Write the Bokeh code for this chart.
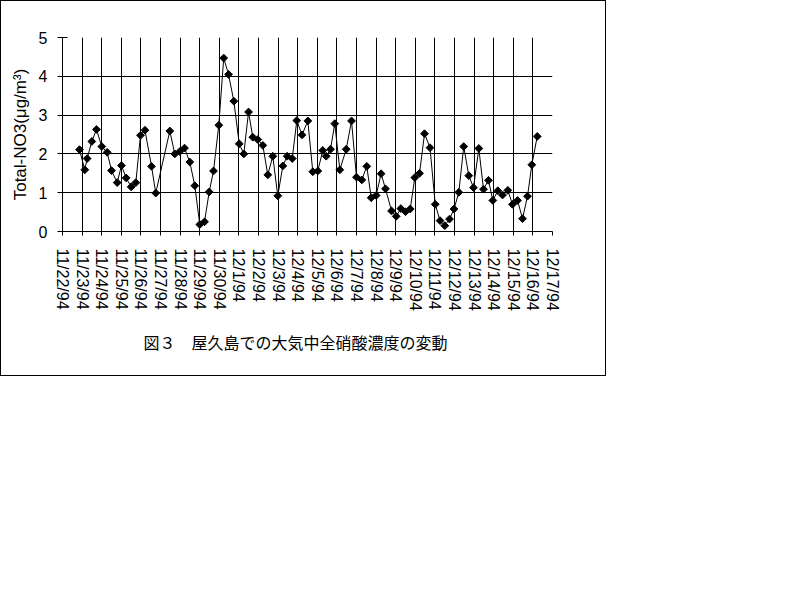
from math import pi
from bokeh.plotting import figure
from bokeh.models import FixedTicker, Range1d, Title
from bokeh.embed import file_html
from bokeh.resources import INLINE

# ---- data ----
date_labels = ["11/22/94", "11/23/94", "11/24/94", "11/25/94", "11/26/94", "11/27/94",
               "11/28/94", "11/29/94", "11/30/94", "12/1/94", "12/2/94", "12/3/94",
               "12/4/94", "12/5/94", "12/6/94", "12/7/94", "12/8/94", "12/9/94",
               "12/10/94", "12/11/94", "12/12/94", "12/13/94", "12/14/94", "12/15/94",
               "12/16/94", "12/17/94"]

# sampling time, hours after 11/22/94 00:00
hours = [20.8, 27.3, 30.2, 35.9, 41.6, 48.1, 54.7, 60.0, 67.0, 72.2, 78.0, 84.1, 89.8, 95.5, 101.0,
         109.0, 114.2, 131.4, 137.5, 143.6, 149.4, 155.9, 162.0, 168.1, 173.9, 179.6, 184.9, 191.4, 197.4,
         203.3, 209.8, 216.4, 222.0, 227.8, 233.0, 239.1, 245.3, 251.4, 257.5, 263.6, 269.8, 275.1, 281.3,
         286.9, 293.3,
         300.4, 306.5, 312.6, 318.7, 322.9, 328.2, 333.4, 339.6, 347.4, 353.9, 360.0, 366.5, 372.6, 378.0,
         384.1, 390.1, 395.5,
         402.9, 408.6, 414.3, 420.0, 425.8, 431.4, 437.2, 443.3, 450.0, 456.4, 462.3, 468.1, 473.9, 479.4,
         485.3, 491.3,
         497.5, 503.3, 509.8, 515.5, 521.6, 526.9, 533.0, 538.8, 545.3, 551.0, 557.2, 563.3, 569.4, 574.7,
         581.3]

# Total-NO3 concentration (ug/m3)
no3 = [2.11, 1.59, 1.88, 2.32, 2.63, 2.19, 2.04, 1.57, 1.26, 1.70, 1.38, 1.15, 1.26, 2.48, 2.61,
       1.68, 0.99, 2.59, 2.00, 2.06, 2.15, 1.79, 1.18, 0.18, 0.25, 1.02, 1.56, 2.74, 4.47,
       4.05, 3.36, 2.26, 2.00, 3.08, 2.43, 2.37, 2.22, 1.46, 1.94, 0.92, 1.69, 1.94, 1.88, 2.86, 2.49,
       2.85, 1.54, 1.56, 2.09, 1.94, 2.12, 2.78, 1.59, 2.12, 2.85, 1.40, 1.33, 1.68, 0.87, 0.93, 1.49, 1.10,
       0.53, 0.39, 0.59, 0.51, 0.58, 1.39, 1.50, 2.52, 2.16, 0.70, 0.28, 0.15, 0.32, 0.58, 1.01, 2.19,
       1.44, 1.13, 2.14, 1.09, 1.32, 0.80, 1.05, 0.94, 1.06, 0.70, 0.80, 0.33, 0.91, 1.72, 2.45]

y_ticks = [0, 1, 2, 3, 4, 5]
y_title = "Total-NO3(\u03bcg/m\u00b3)"
chart_title = "図３　屋久島での大気中全硝酸濃度の変動"

HOURS_PER_DAY = 24
x_ticks = [i * HOURS_PER_DAY for i in range(len(date_labels))]

p = figure(width=606, height=376, output_backend="svg", toolbar_location=None,
           x_range=Range1d(x_ticks[0], x_ticks[-1]), y_range=Range1d(y_ticks[0], y_ticks[-1]),
           min_border_left=61, min_border_right=55, min_border_top=36, min_border_bottom=146)
p.styles = {"border": "1px solid black"}
p.outline_line_color = None
p.background_fill_color = "white"
p.border_fill_color = "white"

# axes
p.xaxis.ticker = FixedTicker(ticks=x_ticks)
p.xaxis.major_label_overrides = {t: lab for t, lab in zip(x_ticks, date_labels)}
p.xaxis.major_label_orientation = "vertical"
p.yaxis.ticker = FixedTicker(ticks=y_ticks)
for ax in (p.xaxis, p.yaxis):
    ax.axis_line_color = "black"
    ax.axis_line_width = 1
    ax.major_tick_line_color = "black"
    ax.minor_tick_line_color = None
    ax.major_label_text_font = "Liberation Sans"
    ax.major_label_text_font_size = "16px"
    ax.major_label_text_color = "black"
p.xaxis.major_tick_out = 4
p.xaxis.major_tick_in = 0
p.xaxis.major_label_standoff = 13
p.yaxis.major_tick_out = 5
p.yaxis.major_tick_in = 5
p.yaxis.major_label_standoff = 10
p.yaxis.axis_label = y_title
p.yaxis.axis_label_text_font = "Liberation Sans"
p.yaxis.axis_label_text_font_size = "17px"
p.yaxis.axis_label_text_font_style = "normal"
p.yaxis.axis_label_text_color = "black"
p.yaxis.axis_label_standoff = 6

# grids
p.xgrid.ticker = FixedTicker(ticks=x_ticks[1:-1])
p.ygrid.ticker = FixedTicker(ticks=y_ticks[1:-1])
for g in (p.xgrid, p.ygrid):
    g.grid_line_color = "black"
    g.grid_line_alpha = 1
    g.grid_line_width = 1

# data
p.line(hours, no3, line_color="black", line_width=1)
p.scatter(hours, no3, marker="square", angle=pi / 4, size=5.5,
          fill_color="black", line_color="black")

# caption under the chart
p.add_layout(Title(text=chart_title, text_font="Noto Sans CJK JP", text_font_size="16px",
                   text_font_style="normal", text_color="black", align="left",
                   offset=81, standoff=29), "below")

open("out.html", "w").write(file_html(p, INLINE))
